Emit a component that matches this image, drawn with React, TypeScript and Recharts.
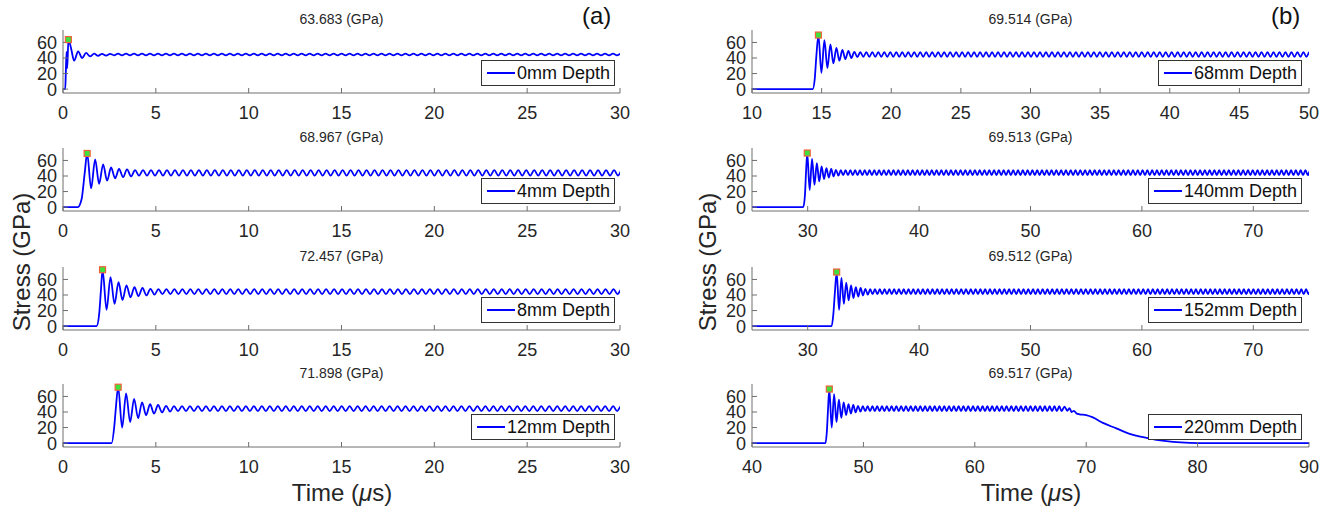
import React from "react";
import { ComposedChart, Line, XAxis, YAxis, ReferenceDot } from "recharts";

// ringing half-period (us)
const halfPeriod = 0.215;

const depthLabels = ["0mm Depth", "4mm Depth", "8mm Depth", "12mm Depth", "68mm Depth", "140mm Depth", "152mm Depth", "220mm Depth"];
const peakStress = [63.683, 68.967, 72.457, 71.898, 69.514, 69.513, 69.512, 69.517];
const peakTimes = [0.29, 1.3, 2.13, 2.97, 14.77, 29.96, 32.6, 46.94];

const yTicks = [0, 20, 40, 60];
const xTicksA = [0, 5, 10, 15, 20, 25, 30];
const xTicks68 = [10, 15, 20, 25, 30, 35, 40, 45, 50];
const xTicksDeep = [30, 40, 50, 60, 70];
const xTicks220 = [40, 50, 60, 70, 80, 90];

// --- 0mm: onset (t, v) then alternating extrema every half period
const rise0T = [0, 0.12, 0.15, 0.19, 0.23, 0.29, 0.43];
const rise0V = [0, 0, 20, 48, 27, 63.683, 53];
const ext0Start = 0.6;
const ext0 = [
  36.5, 48.5, 40, 46.5, 42, 45.6, 42.8, 45.4, 43.1, 45.3,
  43.5, 45.5, 43.5, 45.5, 43.5, 45.5, 43.5, 45.5, 43.5, 45.5, 43.5, 45.5, 43.5, 45.5, 43.5, 45.5, 43.5, 45.5, 43.5, 45.5,
  43.5, 45.5, 43.5, 45.5, 43.5, 45.5, 43.5, 45.5, 43.5, 45.5, 43.5, 45.5, 43.5, 45.5, 43.5, 45.5, 43.5, 45.5, 43.5, 45.5,
  43.5, 45.5, 43.5, 45.5, 43.5, 45.5, 43.5, 45.5, 43.5, 45.5, 43.5, 45.5, 43.5, 45.5, 43.5, 45.5, 43.5, 45.5, 43.5, 45.5,
  43.5, 45.5, 43.5, 45.5, 43.5, 45.5, 43.5, 45.5, 43.5, 45.5, 43.5, 45.5, 43.5, 45.5, 43.5, 45.5, 43.5, 45.5, 43.5, 45.5,
  43.5, 45.5, 43.5, 45.5, 43.5, 45.5, 43.5, 45.5, 43.5, 45.5, 43.5, 45.5, 43.5, 45.5, 43.5, 45.5, 43.5, 45.5, 43.5, 45.5,
  43.5, 45.5, 43.5, 45.5, 43.5, 45.5, 43.5, 45.5, 43.5, 45.5, 43.5, 45.5, 43.5, 45.5, 43.5, 45.5, 43.5, 45.5, 43.5, 45.5,
  43.5, 45.5, 43.5, 45.5, 43.5, 45.5, 43.5, 45.5, 43.5, 45.5, 43.5, 45.5, 43.5, 45.5, 43.5, 45.5, 43.5, 45.5, 43.5, 45.5,
];

// --- 4mm
const rise4T = [0, 0.8, 1.0, 1.17];
const rise4V = [0, 0, 10, 44];
const ext4 = [
  68.967, 24, 61.5, 30, 55, 34, 51, 37, 49, 38.5, 48.5, 39.5,
  47.5, 40.5, 47.5, 40.5, 47.5, 40.5, 47.5, 40.5, 47.5, 40.5, 47.5, 40.5, 47.5, 40.5, 47.5, 40.5, 47.5, 40.5, 47.5, 40.5,
  47.5, 40.5, 47.5, 40.5, 47.5, 40.5, 47.5, 40.5, 47.5, 40.5, 47.5, 40.5, 47.5, 40.5, 47.5, 40.5, 47.5, 40.5, 47.5, 40.5,
  47.5, 40.5, 47.5, 40.5, 47.5, 40.5, 47.5, 40.5, 47.5, 40.5, 47.5, 40.5, 47.5, 40.5, 47.5, 40.5, 47.5, 40.5, 47.5, 40.5,
  47.5, 40.5, 47.5, 40.5, 47.5, 40.5, 47.5, 40.5, 47.5, 40.5, 47.5, 40.5, 47.5, 40.5, 47.5, 40.5, 47.5, 40.5, 47.5, 40.5,
  47.5, 40.5, 47.5, 40.5, 47.5, 40.5, 47.5, 40.5, 47.5, 40.5, 47.5, 40.5, 47.5, 40.5, 47.5, 40.5, 47.5, 40.5, 47.5, 40.5,
  47.5, 40.5, 47.5, 40.5, 47.5, 40.5, 47.5, 40.5, 47.5, 40.5, 47.5, 40.5, 47.5, 40.5, 47.5, 40.5, 47.5, 40.5, 47.5, 40.5,
  47.5, 40.5, 47.5, 40.5, 47.5, 40.5, 47.5, 40.5, 47.5, 40.5, 47.5, 40.5, 47.5, 40.5, 47.5, 40.5, 47.5, 40.5, 47.5, 40.5,
];

// --- 8mm
const rise8T = [0, 1.81, 1.95, 2.04];
const rise8V = [0, 0, 16, 45];
const ext8 = [
  72.457, 21, 63, 28.5, 56.5, 33.5, 52.5, 37, 50, 38.5, 49, 39.5, 48, 40.5,
  47.5, 41, 47.5, 41, 47.5, 41, 47.5, 41, 47.5, 41, 47.5, 41, 47.5, 41, 47.5, 41, 47.5, 41, 47.5, 41,
  47.5, 41, 47.5, 41, 47.5, 41, 47.5, 41, 47.5, 41, 47.5, 41, 47.5, 41, 47.5, 41, 47.5, 41, 47.5, 41,
  47.5, 41, 47.5, 41, 47.5, 41, 47.5, 41, 47.5, 41, 47.5, 41, 47.5, 41, 47.5, 41, 47.5, 41, 47.5, 41,
  47.5, 41, 47.5, 41, 47.5, 41, 47.5, 41, 47.5, 41, 47.5, 41, 47.5, 41, 47.5, 41, 47.5, 41, 47.5, 41,
  47.5, 41, 47.5, 41, 47.5, 41, 47.5, 41, 47.5, 41, 47.5, 41, 47.5, 41, 47.5, 41, 47.5, 41, 47.5, 41,
  47.5, 41, 47.5, 41, 47.5, 41, 47.5, 41, 47.5, 41, 47.5, 41, 47.5, 41, 47.5, 41, 47.5, 41, 47.5, 41,
  47.5, 41, 47.5, 41, 47.5, 41, 47.5, 41, 47.5, 41, 47.5, 41, 47.5, 41, 47.5, 41, 47.5, 41, 47.5, 41,
];

// --- 12mm
const rise12T = [0, 2.62, 2.76, 2.85];
const rise12V = [0, 0, 21, 46];
const ext12 = [
  71.898, 20, 64, 27, 57, 32, 52.5, 36, 50, 38, 49, 39.5, 48, 40.5,
  47.5, 41, 47.5, 41, 47.5, 41, 47.5, 41, 47.5, 41, 47.5, 41, 47.5, 41, 47.5, 41, 47.5, 41, 47.5, 41,
  47.5, 41, 47.5, 41, 47.5, 41, 47.5, 41, 47.5, 41, 47.5, 41, 47.5, 41, 47.5, 41, 47.5, 41, 47.5, 41,
  47.5, 41, 47.5, 41, 47.5, 41, 47.5, 41, 47.5, 41, 47.5, 41, 47.5, 41, 47.5, 41, 47.5, 41, 47.5, 41,
  47.5, 41, 47.5, 41, 47.5, 41, 47.5, 41, 47.5, 41, 47.5, 41, 47.5, 41, 47.5, 41, 47.5, 41, 47.5, 41,
  47.5, 41, 47.5, 41, 47.5, 41, 47.5, 41, 47.5, 41, 47.5, 41, 47.5, 41, 47.5, 41, 47.5, 41, 47.5, 41,
  47.5, 41, 47.5, 41, 47.5, 41, 47.5, 41, 47.5, 41, 47.5, 41, 47.5, 41, 47.5, 41, 47.5, 41, 47.5, 41,
  47.5, 41, 47.5, 41, 47.5, 41, 47.5, 41, 47.5, 41, 47.5, 41, 47.5, 41, 47.5, 41, 47.5, 41, 47.5, 41,
];

// --- 68mm
const rise68T = [10, 14.36, 14.5, 14.62];
const rise68V = [0, 0, 12, 42];
const ext68 = [
  69.514, 21, 63, 27, 57.5, 33, 53, 36.5, 50.5, 38.5, 49, 40, 48, 41,
  47.5, 41.5, 47.5, 41.5, 47.5, 41.5, 47.5, 41.5, 47.5, 41.5, 47.5, 41.5, 47.5, 41.5, 47.5, 41.5, 47.5, 41.5, 47.5, 41.5,
  47.5, 41.5, 47.5, 41.5, 47.5, 41.5, 47.5, 41.5, 47.5, 41.5, 47.5, 41.5, 47.5, 41.5, 47.5, 41.5, 47.5, 41.5, 47.5, 41.5,
  47.5, 41.5, 47.5, 41.5, 47.5, 41.5, 47.5, 41.5, 47.5, 41.5, 47.5, 41.5, 47.5, 41.5, 47.5, 41.5, 47.5, 41.5, 47.5, 41.5,
  47.5, 41.5, 47.5, 41.5, 47.5, 41.5, 47.5, 41.5, 47.5, 41.5, 47.5, 41.5, 47.5, 41.5, 47.5, 41.5, 47.5, 41.5, 47.5, 41.5,
  47.5, 41.5, 47.5, 41.5, 47.5, 41.5, 47.5, 41.5, 47.5, 41.5, 47.5, 41.5, 47.5, 41.5, 47.5, 41.5, 47.5, 41.5, 47.5, 41.5,
  47.5, 41.5, 47.5, 41.5, 47.5, 41.5, 47.5, 41.5, 47.5, 41.5, 47.5, 41.5, 47.5, 41.5, 47.5, 41.5, 47.5, 41.5, 47.5, 41.5,
  47.5, 41.5, 47.5, 41.5, 47.5, 41.5, 47.5, 41.5, 47.5, 41.5, 47.5, 41.5, 47.5, 41.5, 47.5, 41.5, 47.5, 41.5, 47.5, 41.5,
  47.5, 41.5, 47.5, 41.5, 47.5, 41.5, 47.5, 41.5, 47.5, 41.5, 47.5, 41.5, 47.5, 41.5, 47.5, 41.5, 47.5, 41.5, 47.5, 41.5,
];

// --- 140mm
const rise140T = [25, 29.6, 29.75, 29.85];
const rise140V = [0, 0, 15, 45];
const ext140 = [
  69.513, 22, 62, 28.5, 56.5, 33, 52.5, 36, 50, 38, 49, 39.5, 48, 40.5,
  47.5, 41, 47.5, 41, 47.5, 41, 47.5, 41, 47.5, 41, 47.5, 41, 47.5, 41, 47.5, 41, 47.5, 41, 47.5, 41,
  47.5, 41, 47.5, 41, 47.5, 41, 47.5, 41, 47.5, 41, 47.5, 41, 47.5, 41, 47.5, 41, 47.5, 41, 47.5, 41,
  47.5, 41, 47.5, 41, 47.5, 41, 47.5, 41, 47.5, 41, 47.5, 41, 47.5, 41, 47.5, 41, 47.5, 41, 47.5, 41,
  47.5, 41, 47.5, 41, 47.5, 41, 47.5, 41, 47.5, 41, 47.5, 41, 47.5, 41, 47.5, 41, 47.5, 41, 47.5, 41,
  47.5, 41, 47.5, 41, 47.5, 41, 47.5, 41, 47.5, 41, 47.5, 41, 47.5, 41, 47.5, 41, 47.5, 41, 47.5, 41,
  47.5, 41, 47.5, 41, 47.5, 41, 47.5, 41, 47.5, 41, 47.5, 41, 47.5, 41, 47.5, 41, 47.5, 41, 47.5, 41,
  47.5, 41, 47.5, 41, 47.5, 41, 47.5, 41, 47.5, 41, 47.5, 41, 47.5, 41, 47.5, 41, 47.5, 41, 47.5, 41,
  47.5, 41, 47.5, 41, 47.5, 41, 47.5, 41, 47.5, 41, 47.5, 41, 47.5, 41, 47.5, 41, 47.5, 41, 47.5, 41,
  47.5, 41, 47.5, 41, 47.5, 41, 47.5, 41, 47.5, 41, 47.5, 41, 47.5, 41, 47.5, 41, 47.5, 41, 47.5, 41,
  47.5, 41, 47.5, 41, 47.5, 41, 47.5, 41, 47.5, 41, 47.5, 41, 47.5, 41, 47.5, 41, 47.5, 41, 47.5, 41,
];

// --- 152mm
const rise152T = [25, 32.15, 32.3, 32.45];
const rise152V = [0, 0, 15, 45];
const ext152 = [
  69.512, 21, 62, 28.5, 56, 33, 52.5, 36, 50, 38, 49, 39.5, 48, 40.5,
  47.5, 41, 47.5, 41, 47.5, 41, 47.5, 41, 47.5, 41, 47.5, 41, 47.5, 41, 47.5, 41, 47.5, 41, 47.5, 41,
  47.5, 41, 47.5, 41, 47.5, 41, 47.5, 41, 47.5, 41, 47.5, 41, 47.5, 41, 47.5, 41, 47.5, 41, 47.5, 41,
  47.5, 41, 47.5, 41, 47.5, 41, 47.5, 41, 47.5, 41, 47.5, 41, 47.5, 41, 47.5, 41, 47.5, 41, 47.5, 41,
  47.5, 41, 47.5, 41, 47.5, 41, 47.5, 41, 47.5, 41, 47.5, 41, 47.5, 41, 47.5, 41, 47.5, 41, 47.5, 41,
  47.5, 41, 47.5, 41, 47.5, 41, 47.5, 41, 47.5, 41, 47.5, 41, 47.5, 41, 47.5, 41, 47.5, 41, 47.5, 41,
  47.5, 41, 47.5, 41, 47.5, 41, 47.5, 41, 47.5, 41, 47.5, 41, 47.5, 41, 47.5, 41, 47.5, 41, 47.5, 41,
  47.5, 41, 47.5, 41, 47.5, 41, 47.5, 41, 47.5, 41, 47.5, 41, 47.5, 41, 47.5, 41, 47.5, 41, 47.5, 41,
  47.5, 41, 47.5, 41, 47.5, 41, 47.5, 41, 47.5, 41, 47.5, 41, 47.5, 41, 47.5, 41, 47.5, 41, 47.5, 41,
  47.5, 41, 47.5, 41, 47.5, 41, 47.5, 41, 47.5, 41, 47.5, 41, 47.5, 41, 47.5, 41, 47.5, 41, 47.5, 41,
  47.5, 41, 47.5, 41, 47.5, 41, 47.5, 41, 47.5, 41, 47.5, 41, 47.5, 41, 47.5, 41, 47.5, 41, 47.5, 41,
];

// --- 220mm: ringing, then the release wave pulls stress back to zero
const rise220T = [40, 46.6, 46.72, 46.83];
const rise220V = [0, 0, 15, 45];
const ext220 = [
  69.517, 20, 63, 27, 56, 32.5, 52.5, 36, 50, 38, 49, 39.5, 48, 40.5,
  47.5, 41, 47.5, 41, 47.5, 41, 47.5, 41, 47.5, 41, 47.5, 41, 47.5, 41, 47.5, 41, 47.5, 41, 47.5, 41,
  47.5, 41, 47.5, 41, 47.5, 41, 47.5, 41, 47.5, 41, 47.5, 41, 47.5, 41, 47.5, 41, 47.5, 41, 47.5, 41,
  47.5, 41, 47.5, 41, 47.5, 41, 47.5, 41, 47.5, 41, 47.5, 41, 47.5, 41, 47.5, 41, 47.5, 41, 47.5, 41,
  47.5, 41, 47.5, 41, 47.5, 41, 47.5, 41, 47.5, 41, 47.5, 41, 47.5, 41, 47.5, 41, 47.5, 41, 47.5, 41,
  47.5, 41, 47.5, 41,
];
const tail220T = [68.05, 68.3, 68.5, 68.7, 68.9, 69.1, 69.4, 70.0, 70.6, 71.5, 72.7, 73.9, 75.1, 76.3, 77.8, 79.3, 81, 90];
const tail220V = [47, 41.5, 45, 40, 41.5, 38.5, 37, 36, 33, 26, 19, 11.8, 7.6, 4.2, 1.6, 0.4, 0, 0];

type Pt = { t: number; v: number };

function buildSeries(riseT: number[], riseV: number[], start: number, ext: number[], tailT: number[] = [], tailV: number[] = []): Pt[] {
  const pts: Pt[] = riseT.map((t, i) => ({ t, v: riseV[i] }));
  ext.forEach((v, i) => pts.push({ t: +(start + i * halfPeriod).toFixed(3), v }));
  tailT.forEach((t, i) => pts.push({ t, v: tailV[i] }));
  return pts;
}

const series = [
  buildSeries(rise0T, rise0V, ext0Start, ext0),
  buildSeries(rise4T, rise4V, peakTimes[1], ext4),
  buildSeries(rise8T, rise8V, peakTimes[2], ext8),
  buildSeries(rise12T, rise12V, peakTimes[3], ext12),
  buildSeries(rise68T, rise68V, peakTimes[4], ext68),
  buildSeries(rise140T, rise140V, peakTimes[5], ext140),
  buildSeries(rise152T, rise152V, peakTimes[6], ext152),
  buildSeries(rise220T, rise220V, peakTimes[7], ext220, tail220T, tail220V),
];

const xDomains: [number, number][] = [[0, 30], [0, 30], [0, 30], [0, 30], [10, 50], [25, 75], [25, 75], [40, 90]];
const xTickSets = [xTicksA, xTicksA, xTicksA, xTicksA, xTicks68, xTicksDeep, xTicksDeep, xTicks220];

const FONT = "'Liberation Sans', Arial, Helvetica, sans-serif";
const AXIS = "#6e6e6e";
const TEXT = "#262626";
const BOX_W = 557;
const BOX_H = 63;
const PAD_L = 63;
const PAD_T = 30;
const rowTops = [30, 148, 267, 384];
const colLefts = [63, 752];

function PeakMark(props: any) {
  const { cx, cy } = props;
  return <rect x={cx - 3} y={cy - 3} width={6} height={6} fill="#3ee03e" stroke="#f2603a" strokeWidth={1.2} />;
}

function Panel({ i }: { i: number }) {
  const col = i < 4 ? 0 : 1;
  const row = i % 4;
  const left = colLefts[col] - PAD_L;
  const top = rowTops[row] - PAD_T;
  const W = BOX_W + PAD_L + 20;
  const H = BOX_H + PAD_T + 40;
  const dom = xDomains[i];
  return (
    <div style={{ position: "absolute", left, top, width: W, height: H }}>
      <ComposedChart width={W} height={H} data={series[i]} margin={{ top: PAD_T, right: 20, bottom: 10, left: PAD_L - 50 }}>
        <XAxis
          dataKey="t"
          type="number"
          domain={dom}
          ticks={xTickSets[i]}
          interval={0}
          allowDataOverflow
          height={30}
          stroke={AXIS}
          tickSize={-5}
          tickMargin={18}
          tick={{ fill: TEXT, fontSize: 18, fontFamily: FONT }}
        />
        <XAxis xAxisId="top" orientation="top" type="number" domain={dom} ticks={xTickSets[i]} interval={0} allowDataOverflow height={0} stroke={AXIS} tickSize={-5} tick={false} />
        <YAxis
          type="number"
          domain={[-5, 76]}
          ticks={yTicks}
          interval={0}
          allowDataOverflow
          width={50}
          stroke={AXIS}
          tickSize={-5}
          tickMargin={11}
          tick={{ fill: TEXT, fontSize: 18, fontFamily: FONT }}
        />
        <YAxis yAxisId="r" orientation="right" type="number" domain={[-5, 76]} ticks={yTicks} interval={0} allowDataOverflow width={0} stroke={AXIS} tickSize={-5} tick={false} />
        <Line type="monotone" dataKey="v" stroke="#0000ff" strokeWidth={1.8} dot={false} isAnimationActive={false} />
        <ReferenceDot x={peakTimes[i]} y={peakStress[i]} shape={PeakMark} />
      </ComposedChart>
      <div style={{ position: "absolute", left: PAD_L, top: PAD_T - 19, width: BOX_W, textAlign: "center", fontSize: 14, lineHeight: "16px", color: TEXT }}>
        {peakStress[i].toFixed(3)} (GPa)
      </div>
      <div
        style={{
          position: "absolute",
          right: 20 + (col === 0 ? 5 : 7),
          top: PAD_T + BOX_H - 7 - 26,
          height: 24,
          border: "1px solid #333",
          background: "#fff",
          display: "flex",
          alignItems: "center",
          padding: "0 4px 0 5px",
          fontSize: 18,
          color: "#111",
          whiteSpace: "nowrap",
        }}
      >
        <span style={{ display: "inline-block", width: 28, height: 2, background: "#0000ff", marginRight: 2 }} />
        {depthLabels[i]}
      </div>
    </div>
  );
}

function YLabel({ x }: { x: number }) {
  return (
    <div style={{ position: "absolute", left: x - 100, top: 262 - 14, width: 200, height: 28, lineHeight: "28px", textAlign: "center", fontSize: 24, color: TEXT, transform: "rotate(-90deg)" }}>
      Stress (GPa)
    </div>
  );
}

function XLabel({ x }: { x: number }) {
  return (
    <div style={{ position: "absolute", left: x - 100, top: 493 - 14, width: 200, height: 28, lineHeight: "28px", textAlign: "center", fontSize: 24, color: TEXT }}>
      Time (<i>μ</i>s)
    </div>
  );
}

export default function App() {
  return (
    <div style={{ position: "absolute", left: 0, top: 0, width: 1332, height: 513, background: "#fff", fontFamily: FONT, overflow: "hidden" }}>
      {series.map((_, i) => (
        <Panel key={i} i={i} />
      ))}
      <YLabel x={22} />
      <YLabel x={708} />
      <XLabel x={342} />
      <XLabel x={1031} />
      <div style={{ position: "absolute", left: 582, top: 2, fontSize: 24, color: "#111" }}>(a)</div>
      <div style={{ position: "absolute", left: 1271, top: 2, fontSize: 24, color: "#111" }}>(b)</div>
    </div>
  );
}
